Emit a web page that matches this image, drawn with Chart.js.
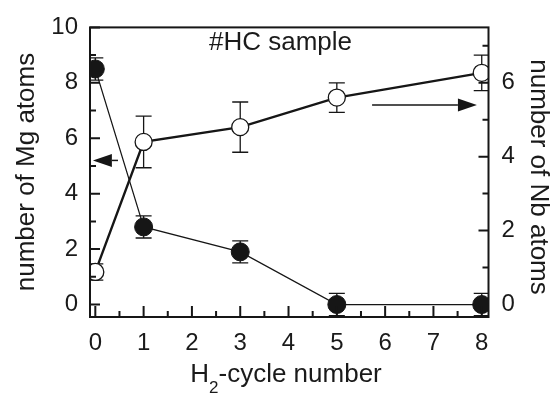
<!DOCTYPE html>
<html>
<head>
<meta charset="utf-8">
<script src="https://cdn.jsdelivr.net/npm/chart.js@4.4.1/dist/chart.umd.min.js"></script>
<style>
  html, body { margin: 0; padding: 0; background: #fff; }
  #wrap { width: 553px; height: 394px; }
</style>
</head>
<body>
<div id="wrap"><canvas id="c" width="553" height="394"></canvas></div>
<script>
// ---- data ----
const cycles = [0, 1, 3, 5, 8];
const mgAtoms = [8.5, 2.8, 1.9, 0, 0];
const mgErr = [0.4, 0.4, 0.4, 0.4, 0.4];
const nbAtoms = [0.88, 4.4, 4.8, 5.6, 6.27];
const nbErr = [0.22, 0.7, 0.68, 0.4, 0.48];

const xTicks = [0, 1, 2, 3, 4, 5, 6, 7, 8];
const xMinorTicks = [0.5, 1.5, 2.5, 3.5, 4.5, 5.5, 6.5, 7.5];
const yLeftTicks = [0, 2, 4, 6, 8, 10];
const yLeftMinorTicks = [1, 3, 5, 7, 9];
const yRightTicks = [0, 2, 4, 6];
const yRightMinorTicks = [1, 3, 5, 7];

const leftTitle = 'number of Mg atoms';
const rightTitle = 'number of Nb atoms';
const xTitleParts = ['H', '2', '-cycle number'];
const sampleLabel = '#HC sample';

// arrows: [x0, x1, y, axis] (data coordinates), tip at x1
const leftArrow = [0.47, -0.05, 5.2];
const rightArrow = [5.73, 7.9, 5.4];

const FONT = '"Liberation Sans", Arial, Helvetica, sans-serif';
const INK = '#161616';

const decorPlugin = {
  id: 'decor',
  beforeDatasetsDraw(chart) {
    const ctx = chart.ctx, a = chart.chartArea;
    const xs = chart.scales.x, yl = chart.scales.yL, yr = chart.scales.yR;
    ctx.save();
    ctx.beginPath();
    ctx.rect(a.left, a.top, a.right - a.left, a.bottom - a.top);
    ctx.clip();
    ctx.strokeStyle = INK;
    ctx.lineWidth = 1.3;
    const bars = (vals, errs, sc) => {
      cycles.forEach((c, i) => {
        const px = xs.getPixelForValue(c);
        const y1 = sc.getPixelForValue(vals[i] + errs[i]);
        const y2 = sc.getPixelForValue(vals[i] - errs[i]);
        ctx.beginPath();
        ctx.moveTo(px, y1); ctx.lineTo(px, y2);
        ctx.moveTo(px - 8, y1); ctx.lineTo(px + 8, y1);
        ctx.moveTo(px - 8, y2); ctx.lineTo(px + 8, y2);
        ctx.stroke();
      });
    };
    bars(mgAtoms, mgErr, yl);
    bars(nbAtoms, nbErr, yr);
    ctx.restore();
  },
  afterDraw(chart) {
    const ctx = chart.ctx, a = chart.chartArea;
    const xs = chart.scales.x, yl = chart.scales.yL, yr = chart.scales.yR;
    ctx.save();
    ctx.strokeStyle = INK;
    ctx.fillStyle = INK;
    // frame
    ctx.lineWidth = 2;
    ctx.strokeRect(a.left, a.top, a.right - a.left, a.bottom - a.top);
    // inward ticks
    ctx.lineWidth = 2;
    ctx.beginPath();
    xTicks.forEach(v => { const p = xs.getPixelForValue(v); ctx.moveTo(p, a.bottom); ctx.lineTo(p, a.bottom - 11); });
    xMinorTicks.forEach(v => { const p = xs.getPixelForValue(v); ctx.moveTo(p, a.bottom); ctx.lineTo(p, a.bottom - 6); });
    yLeftTicks.forEach(v => { const p = yl.getPixelForValue(v); ctx.moveTo(a.left, p); ctx.lineTo(a.left + 10, p); });
    yLeftMinorTicks.forEach(v => { const p = yl.getPixelForValue(v); ctx.moveTo(a.left, p); ctx.lineTo(a.left + 6, p); });
    yRightTicks.forEach(v => { const p = yr.getPixelForValue(v); ctx.moveTo(a.right, p); ctx.lineTo(a.right - 10, p); });
    yRightMinorTicks.forEach(v => { const p = yr.getPixelForValue(v); ctx.moveTo(a.right, p); ctx.lineTo(a.right - 6, p); });
    ctx.stroke();

    // arrows
    const arrow = (spec, sc) => {
      const x0 = xs.getPixelForValue(spec[0]);
      const x1 = xs.getPixelForValue(spec[1]);
      const y = sc.getPixelForValue(spec[2]);
      const dir = Math.sign(x1 - x0);
      const headLen = 19, headHalf = 6.5;
      ctx.lineWidth = 1.5;
      ctx.beginPath();
      ctx.moveTo(x0, y); ctx.lineTo(x1 - dir * headLen, y);
      ctx.stroke();
      ctx.beginPath();
      ctx.moveTo(x1, y);
      ctx.lineTo(x1 - dir * headLen, y - headHalf);
      ctx.lineTo(x1 - dir * headLen, y + headHalf);
      ctx.closePath();
      ctx.fill();
    };
    arrow(leftArrow, yl);
    arrow(rightArrow, yr);

    // texts
    ctx.fillStyle = '#1a1a1a';
    ctx.font = '26px ' + FONT;
    ctx.textAlign = 'center';
    ctx.textBaseline = 'alphabetic';
    ctx.fillText(sampleLabel, 280.5, 50);

    // left title
    ctx.save();
    ctx.translate(34, 172);
    ctx.rotate(-Math.PI / 2);
    ctx.textBaseline = 'alphabetic';
    ctx.fillText(leftTitle, 0, 0);
    ctx.restore();
    // right title
    ctx.save();
    ctx.translate(531, 177);
    ctx.rotate(Math.PI / 2);
    ctx.textBaseline = 'alphabetic';
    ctx.fillText(rightTitle, 0, 0);
    ctx.restore();

    // x title with subscript
    const bigF = '26px ' + FONT, subF = '17px ' + FONT;
    ctx.font = bigF; const w0 = ctx.measureText(xTitleParts[0]).width;
    const w2 = ctx.measureText(xTitleParts[2]).width;
    ctx.font = subF; const w1 = ctx.measureText(xTitleParts[1]).width;
    let sx = 286 - (w0 + w1 + w2) / 2;
    ctx.textAlign = 'left';
    ctx.font = bigF; ctx.fillText(xTitleParts[0], sx, 382); sx += w0;
    ctx.font = subF; ctx.fillText(xTitleParts[1], sx, 393); sx += w1;
    ctx.font = bigF; ctx.fillText(xTitleParts[2], sx, 382);
    ctx.restore();
  }
};

const tickFont = { family: FONT, size: 24 };

new Chart(document.getElementById('c'), {
  type: 'line',
  data: {
    datasets: [
      {
        label: 'Nb',
        data: cycles.map((c, i) => ({ x: c, y: nbAtoms[i] })),
        yAxisID: 'yR',
        borderColor: INK,
        borderWidth: 2.4,
        pointRadius: 8.5,
        pointBackgroundColor: '#fff',
        pointBorderColor: INK,
        pointBorderWidth: 1.3,
        tension: 0,
        clip: 0
      },
      {
        label: 'Mg',
        data: cycles.map((c, i) => ({ x: c, y: mgAtoms[i] })),
        yAxisID: 'yL',
        borderColor: INK,
        borderWidth: 1.2,
        pointRadius: 9,
        pointBackgroundColor: INK,
        pointBorderColor: INK,
        pointBorderWidth: 1,
        tension: 0,
        clip: 0
      }
    ]
  },
  options: {
    responsive: false,
    animation: false,
    events: [],
    layout: { padding: { top: 18, left: 0, right: 0, bottom: 0 } },
    plugins: { legend: { display: false }, tooltip: { enabled: false }, title: { display: false } },
    scales: {
      x: {
        type: 'linear', position: 'bottom', min: -0.11, max: 8.14,
        grid: { display: false, drawTicks: false }, border: { display: false },
        afterBuildTicks: s => { s.ticks = xTicks.map(v => ({ value: v })); },
        afterFit: s => { s.height = 77; },
        ticks: { font: tickFont, color: '#1a1a1a', padding: 12, maxRotation: 0, autoSkip: false }
      },
      yL: {
        type: 'linear', position: 'left', min: -0.45, max: 10,
        grid: { display: false, drawTicks: false }, border: { display: false },
        afterBuildTicks: s => { s.ticks = yLeftTicks.map(v => ({ value: v })); },
        afterFit: s => { s.width = 90; },
        ticks: { font: tickFont, color: '#1a1a1a', padding: 12, autoSkip: false }
      },
      yR: {
        type: 'linear', position: 'right', min: -0.34, max: 7.5,
        grid: { display: false, drawTicks: false }, border: { display: false },
        afterBuildTicks: s => { s.ticks = yRightTicks.map(v => ({ value: v })); },
        afterFit: s => { s.width = 64.5; },
        ticks: { font: tickFont, color: '#1a1a1a', padding: 13, autoSkip: false }
      }
    }
  },
  plugins: [decorPlugin]
});
</script>
</body>
</html>
